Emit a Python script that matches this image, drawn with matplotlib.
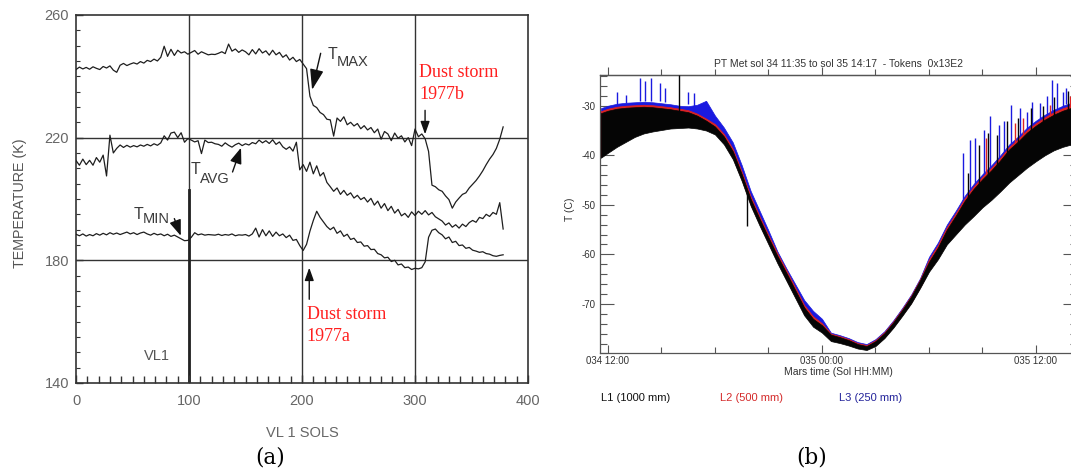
import matplotlib
matplotlib.use("Agg")
import matplotlib.pyplot as plt
from matplotlib.ticker import MultipleLocator, FixedLocator

plt.rcParams['axes.unicode_minus'] = False
plt.rcParams['font.family'] = ['Liberation Sans', 'DejaVu Sans']

# ---------------- panel (a) data: Viking Lander 1 temperatures ----------------
sols = list(range(0, 379, 3))
t_max = [242.2, 243.0, 242.4, 242.9, 242.3, 243.1, 242.6, 242.2, 243.2, 242.7,
         243.4, 242.0, 241.3, 243.6, 244.2, 243.5, 244.0, 244.4, 244.0, 244.8,
         244.3, 245.2, 244.8, 245.6, 245.0, 246.2, 249.8, 246.5, 248.8, 246.8,
         248.5, 247.6, 248.0, 247.2, 247.8, 248.4, 247.2, 248.0, 247.5, 247.0,
         247.2, 247.1, 247.5, 248.0, 247.4, 250.5, 248.2, 248.9, 247.8, 248.6,
         248.0, 247.0, 248.7, 247.3, 249.0, 247.6, 248.3, 246.9, 248.5, 247.0,
         247.8, 246.2, 247.0, 245.3, 246.2, 244.8, 245.5, 244.0, 242.5, 233.5,
         230.5, 229.8, 228.2, 227.5, 226.0, 225.8, 220.5, 226.4, 225.3, 226.8,
         224.2, 225.0, 223.8, 224.6, 222.9, 223.9, 222.5, 223.3, 221.6, 222.8,
         219.5, 222.0, 221.2, 219.0, 221.5, 219.8, 220.6, 218.6, 220.0, 217.4,
         222.8, 220.3, 221.2, 219.6, 215.5, 204.5, 204.0, 203.0, 202.5, 201.0,
         199.8, 197.0, 199.0, 200.3, 201.5, 202.0, 203.6, 204.8, 206.0, 207.5,
         209.2, 211.2, 213.0, 214.5, 216.5, 219.5, 223.5]
t_avg = [212.5, 211.0, 213.0, 211.2, 212.6, 211.0, 213.5, 212.0, 214.3, 207.5,
         220.8, 215.0, 216.5, 217.6, 216.8, 217.5, 216.9, 217.4, 217.0, 217.6,
         217.2, 217.8, 217.3, 218.0, 217.5, 218.3, 220.6, 219.2, 221.5, 221.8,
         220.0, 221.6, 218.5, 219.7, 219.2, 218.6, 219.0, 214.8, 219.2, 218.4,
         218.5, 218.0, 217.8, 217.2, 218.3, 217.5, 216.9, 217.7, 218.2, 217.4,
         218.0, 217.6, 218.4, 218.0, 219.2, 218.3, 219.0, 218.1, 219.3, 217.8,
         218.6, 217.0, 216.2, 217.0, 215.6, 218.5, 209.5, 211.2, 209.0, 212.0,
         208.2, 210.8, 207.5, 208.6, 205.4, 204.0, 202.5, 203.6, 201.5, 202.8,
         201.2, 202.0, 200.3, 201.2, 199.8, 200.5, 199.0, 200.2, 198.0, 199.3,
         197.0, 198.5, 196.2, 197.6, 195.4, 196.6, 194.5, 195.3, 194.0, 195.8,
         194.6, 196.0, 195.0, 196.2, 194.8, 195.6, 194.2, 193.5, 192.8, 191.5,
         192.2, 190.8, 191.6, 190.5, 191.8, 191.0, 192.3, 193.0, 192.4, 194.0,
         193.6, 195.0, 194.3, 195.6, 195.0, 198.8, 190.2]
t_min = [188.5, 188.0, 188.6, 187.9, 188.4, 188.0, 188.7, 188.2, 188.8, 188.3,
         189.0, 188.5, 188.9, 188.4, 188.8, 189.2, 188.6, 189.0, 188.4, 188.9,
         189.2, 188.6, 188.2, 188.8, 188.3, 188.6, 188.0, 188.5, 187.8, 188.2,
         187.6, 187.0, 186.4, 186.5, 187.5, 189.0, 188.3, 188.6, 188.2, 188.4,
         188.3, 188.2, 188.5, 188.1, 188.4, 188.2, 188.6, 188.0, 188.3, 188.2,
         188.4, 187.9, 188.6, 190.5, 187.6, 190.0, 188.0, 189.6, 187.8, 189.2,
         188.0, 188.6, 187.4, 188.2, 186.5, 186.8, 184.8, 183.2, 185.2, 189.5,
         193.0, 196.0, 194.0, 192.5, 191.0, 190.0, 190.8, 188.8, 189.6, 187.8,
         188.5, 186.8, 187.2, 185.8, 186.0, 184.6, 184.8, 183.5, 183.6, 182.2,
         181.8, 180.8, 181.0, 179.6, 180.0, 178.5, 178.8, 177.6, 177.8, 177.0,
         177.4, 177.2, 177.6, 179.5, 187.5, 189.8, 190.2, 189.0, 188.3, 187.0,
         187.6, 185.8, 186.2, 184.8, 185.0, 183.9, 184.2, 183.3, 183.0, 182.6,
         182.8, 182.2, 182.0, 181.5, 181.3, 181.6, 181.8]

a_xticks = [0, 100, 200, 300, 400]
a_yticks = [140, 180, 220, 260]

# ---------------- panel (b) data: Pathfinder mast temperatures ----------------
hb = [11.6, 12.0, 12.5, 13.0, 13.5, 14.0, 14.5, 15.0, 15.5, 16.0,
      16.5, 17.0, 17.5, 18.0, 18.5, 19.0, 19.5, 20.0, 20.5, 21.0,
      21.5, 22.0, 22.5, 23.0, 23.5, 24.0, 24.5, 25.0, 25.5, 26.0,
      26.5, 27.0, 27.5, 28.0, 28.5, 29.0, 29.5, 30.0, 30.5, 31.0,
      31.5, 32.0, 32.5, 33.0, 33.5, 34.0, 34.5, 35.0, 35.5, 36.0,
      36.5, 37.0, 37.5, 38.0, 38.3]
L1_lo = [-40.5, -39.5, -38.3, -37.3, -36.3, -35.6, -35.2, -34.9, -34.6, -34.5,
         -34.4, -34.6, -35.0, -35.8, -37.8, -40.8, -45.2, -50.2, -54.2, -58.0,
         -61.8, -65.3, -68.8, -72.3, -74.6, -75.8, -77.5, -77.9, -78.4, -79.0,
         -79.3, -78.5, -76.9, -74.8, -72.4, -69.9, -66.8, -63.5, -61.0, -58.0,
         -56.0, -54.0, -52.3, -50.5, -49.0, -47.3, -45.5, -44.0, -42.5, -41.2,
         -40.0, -39.0, -38.3, -37.8, -37.5]
L1_hi = [-31.5, -31.0, -30.6, -30.4, -30.3, -30.2, -30.3, -30.5, -30.7, -31.0,
         -31.3, -32.0, -33.0, -34.2, -36.2, -39.2, -43.8, -48.8, -52.8, -56.6,
         -60.3, -63.7, -67.2, -70.7, -73.0, -74.3, -76.2, -76.7, -77.3, -78.1,
         -78.5, -77.5, -75.9, -73.7, -71.2, -68.5, -65.2, -61.5, -58.6, -55.0,
         -52.2, -49.2, -46.8, -44.8, -43.0, -41.0, -38.8, -37.2, -35.4, -34.0,
         -32.8, -31.8, -31.0, -30.4, -30.2]
L2_lo = [-40.2, -39.2, -38.0, -37.0, -36.0, -35.3, -34.9, -34.6, -34.3, -34.2,
         -34.1, -34.3, -34.7, -35.5, -37.5, -40.5, -44.9, -49.9, -53.9, -57.7,
         -61.5, -65.0, -68.5, -72.0, -74.3, -75.5, -77.3, -77.7, -78.2, -78.8,
         -79.1, -78.3, -76.7, -74.6, -72.2, -69.7, -66.6, -63.2, -60.7, -57.7,
         -55.7, -53.7, -52.0, -50.2, -48.7, -47.0, -45.2, -43.7, -42.2, -40.9,
         -39.7, -38.7, -38.0, -37.5, -37.2]
L2_hi = [-31.1, -30.6, -30.2, -30.0, -29.9, -29.8, -29.9, -30.1, -30.3, -30.6,
         -30.9, -31.6, -32.6, -33.7, -35.7, -38.7, -43.3, -48.3, -52.3, -56.1,
         -59.8, -63.2, -66.7, -70.2, -72.5, -73.9, -76.0, -76.5, -77.1, -77.9,
         -78.3, -77.3, -75.7, -73.5, -71.0, -68.3, -65.0, -61.0, -58.1, -54.5,
         -51.7, -48.7, -46.3, -44.3, -42.5, -40.5, -38.3, -36.7, -34.9, -33.5,
         -32.3, -31.3, -30.5, -29.9, -29.7]
L3_lo = [-40.0, -39.0, -37.8, -36.8, -35.8, -35.1, -34.7, -34.4, -34.1, -33.9,
         -33.6, -33.2, -32.8, -33.9, -35.9, -38.9, -43.5, -48.5, -52.6, -56.6,
         -60.6, -64.0, -67.4, -70.6, -72.8, -74.4, -77.2, -77.6, -78.1, -78.7,
         -79.0, -78.2, -76.6, -74.5, -72.1, -69.6, -66.5, -62.9, -60.4, -57.4,
         -55.4, -53.4, -51.7, -49.9, -48.4, -46.7, -44.9, -43.4, -41.9, -40.6,
         -39.4, -38.4, -37.7, -37.2, -36.9]
L3_hi = [-30.5, -30.0, -29.6, -29.4, -29.3, -29.2, -29.3, -29.5, -29.7, -30.0,
         -30.1, -29.8, -29.0, -32.0, -34.4, -37.4, -42.0, -47.2, -51.2, -55.2,
         -59.4, -62.8, -66.0, -69.2, -71.4, -73.0, -75.8, -76.3, -76.9, -77.7,
         -78.1, -77.1, -75.5, -73.3, -70.8, -68.1, -64.8, -60.5, -57.6, -54.0,
         -51.2, -48.2, -45.8, -43.8, -42.0, -40.0, -37.8, -36.2, -34.4, -33.0,
         -31.8, -30.8, -30.0, -29.4, -29.2]

# short-lived spikes (hour, base, top)
b_spk_h = [11.9, 12.5, 13.0, 13.8, 14.1, 14.4, 14.9, 15.2, 16.5, 16.8,
           31.9, 32.3, 32.6, 33.1, 33.4, 33.9, 34.2, 34.6, 35.1, 35.5,
           35.8, 36.2, 36.6, 36.9, 37.2, 37.5, 37.7, 38.1]
b_spk_base = [-33.0, -30.0, -29.5, -29.0, -29.0, -29.0, -29.0, -29.2, -29.6, -30.0,
              -52.0, -50.0, -47.5, -44.5, -43.5, -42.0, -40.5, -39.0, -37.5, -36.2,
              -35.0, -33.5, -32.0, -31.2, -30.6, -30.0, -29.6, -29.2]
b_spk_top = [-30.4, -27.2, -27.8, -24.5, -25.1, -24.5, -25.5, -26.5, -27.2, -27.5,
             -39.5, -37.0, -36.5, -34.8, -32.1, -33.8, -33.0, -29.8, -30.5, -31.2,
             -29.2, -29.5, -28.0, -24.8, -25.5, -27.2, -26.5, -27.0]
r_spk_h = [33.2, 34.8, 35.3, 36.8, 37.9]
r_spk_base = [-45.0, -40.0, -38.0, -33.0, -31.0]
r_spk_top = [-36.5, -33.5, -32.5, -29.8, -28.0]
k_spk_h = [16.0, 19.8, 32.2, 32.8, 33.3, 33.8, 34.4, 35.0, 35.7, 36.4, 37.0, 37.8]
k_spk_base = [-34.0, -54.2, -51.0, -48.0, -46.0, -44.0, -41.5, -39.0, -37.0, -35.0, -33.0, -31.5]
k_spk_top = [-23.8, -47.5, -43.5, -38.0, -35.5, -36.0, -33.0, -32.5, -30.5, -30.0, -28.2, -27.0]

b_xticks = [12, 24, 36]
b_xticklabels = ["034 12:00", "035 00:00", "035 12:00"]
b_yticks = [-30, -40, -50, -60, -70]
legend_labels = ["L1 (1000 mm)", "L2 (500 mm)", "L3 (250 mm)"]
legend_colors = ["#111111", "#d42a2a", "#23239a"]

# ---------------- figure ----------------
fig = plt.figure(figsize=(10.71, 4.72), dpi=100)
fig.patch.set_facecolor('white')

LINE = '#1e1e1e'

# ---- panel (a) ----
axa = fig.add_axes([0.0710, 0.1886, 0.4220, 0.7797])
axa.set_xlim(0, 400)
axa.set_ylim(140, 260)
for v in [100, 200, 300]:
    axa.axvline(v, color='#333333', lw=1.0, zorder=1)
for h in [180, 220]:
    axa.axhline(h, color='#333333', lw=1.0, zorder=1)
axa.plot([100, 100], [140, 203], color='#222222', lw=2.0, zorder=1)

axa.plot(sols, t_max, color=LINE, lw=0.9, zorder=3)
axa.plot(sols, t_avg, color=LINE, lw=0.9, zorder=3)
axa.plot(sols, t_min, color=LINE, lw=0.9, zorder=3)

for s in axa.spines.values():
    s.set_color('#333333')
    s.set_linewidth(1.2)
axa.xaxis.set_major_locator(FixedLocator(a_xticks))
axa.xaxis.set_minor_locator(MultipleLocator(10))
axa.yaxis.set_major_locator(FixedLocator(a_yticks))
axa.yaxis.set_minor_locator(MultipleLocator(5))
axa.tick_params(axis='both', which='both', direction='in', color='#333333',
                labelcolor='#666666', labelsize=10.5)
axa.tick_params(axis='x', which='major', length=6, width=1.0, pad=8)
axa.tick_params(axis='x', which='minor', length=5, width=1.0)
axa.tick_params(axis='y', which='major', length=5, width=1.0, pad=5)
axa.tick_params(axis='y', which='minor', length=3, width=0.8)
axa.set_xlabel('VL 1 SOLS', fontsize=10.5, color='#666666', labelpad=13)
fig.text(0.0187, 0.57, 'TEMPERATURE (K)', rotation=90, fontsize=10.3,
         color='#555555', ha='center', va='center')

# annotations
tc = '#3a3a3a'
axa.text(222.6, 247.2, 'T', fontsize=11.5, color=tc, ha='left', va='center')
axa.text(231.0, 244.6, 'MAX', fontsize=10.5, color=tc, ha='left', va='center')
axa.annotate('', xy=(208.9, 235.6), xytext=(216.5, 247.5),
             arrowprops=dict(arrowstyle='-|>,head_length=0.9,head_width=0.3',
                             mutation_scale=14, color='#111111', lw=1.0,
                             shrinkA=0, shrinkB=0))
axa.text(101.8, 209.7, 'T', fontsize=11.5, color=tc, ha='left', va='center')
axa.text(109.5, 206.4, 'AVG', fontsize=10.5, color=tc, ha='left', va='center')
axa.annotate('', xy=(146.0, 216.7), xytext=(138.5, 208.8),
             arrowprops=dict(arrowstyle='-|>,head_length=0.8,head_width=0.3',
                             mutation_scale=12, color='#111111', lw=1.0,
                             shrinkA=0, shrinkB=0))
axa.text(51.4, 195.0, 'T', fontsize=11.5, color=tc, ha='left', va='center')
axa.text(59.2, 193.6, 'MIN', fontsize=10.5, color=tc, ha='left', va='center')
axa.annotate('', xy=(92.7, 188.0), xytext=(87.0, 193.6),
             arrowprops=dict(arrowstyle='-|>,head_length=0.8,head_width=0.3',
                             mutation_scale=12, color='#111111', lw=1.0,
                             shrinkA=0, shrinkB=0))
axa.text(72, 148.8, 'VL1', fontsize=10.5, color='#555555', ha='center', va='center')

red = '#ff1f1f'
axa.text(303.7, 241.2, 'Dust storm', fontsize=13, color=red, family='Liberation Serif',
         ha='left', va='center')
axa.text(303.7, 234.1, '1977b', fontsize=13, color=red, family='Liberation Serif',
         ha='left', va='center')
axa.annotate('', xy=(308.9, 221.1), xytext=(308.9, 228.9),
             arrowprops=dict(arrowstyle='-|>,head_length=0.7,head_width=0.25',
                             mutation_scale=11, color='#111111', lw=1.0,
                             shrinkA=0, shrinkB=0))
axa.annotate('', xy=(206.4, 177.6), xytext=(206.4, 167.3),
             arrowprops=dict(arrowstyle='-|>,head_length=0.7,head_width=0.25',
                             mutation_scale=11, color='#111111', lw=1.0,
                             shrinkA=0, shrinkB=0))
axa.text(204.3, 162.4, 'Dust storm', fontsize=13, color=red, family='Liberation Serif',
         ha='left', va='center')
axa.text(204.3, 155.3, '1977a', fontsize=13, color=red, family='Liberation Serif',
         ha='left', va='center')

# ---- panel (b) ----
axb = fig.add_axes([0.5602, 0.2511, 0.4454, 0.5900])
axb.set_xlim(11.55, 38.3)
axb.set_ylim(-80.0, -23.8)

blue = '#1a1ae0'
redb = '#dd2222'
blk = '#050505'
axb.fill_between(hb, L3_lo, L3_hi, color=blue, lw=0.5, zorder=2)
axb.vlines(b_spk_h, b_spk_base, b_spk_top, color=blue, lw=1.0, zorder=2)
axb.fill_between(hb, L2_lo, L2_hi, color=redb, lw=0.5, zorder=3)
axb.vlines(r_spk_h, r_spk_base, r_spk_top, color=redb, lw=1.0, zorder=3)
axb.fill_between(hb, L1_lo, L1_hi, color=blk, lw=0.5, zorder=4)
axb.vlines(k_spk_h, k_spk_base, k_spk_top, color=blk, lw=1.0, zorder=4)

for s in axb.spines.values():
    s.set_color('#555555')
    s.set_linewidth(0.9)
axb.xaxis.set_major_locator(FixedLocator(b_xticks))
axb.xaxis.set_minor_locator(MultipleLocator(3))
axb.set_xticklabels(b_xticklabels)
axb.yaxis.set_major_locator(FixedLocator(b_yticks))
axb.yaxis.set_minor_locator(MultipleLocator(2))
axb.tick_params(axis='both', which='both', direction='in', color='#555555',
                labelcolor='#333333', labelsize=7, right=True, top=False)
axb.tick_params(axis='x', which='major', length=6, width=0.8, pad=2)
axb.tick_params(axis='x', which='minor', length=4, width=0.8)
axb.tick_params(axis='y', which='major', length=10, width=0.8, pad=3)
axb.tick_params(axis='y', which='minor', length=5, width=0.8)
top = axb.secondary_xaxis('top')
top.xaxis.set_major_locator(FixedLocator(b_xticks))
top.xaxis.set_minor_locator(MultipleLocator(3))
top.tick_params(axis='x', which='both', direction='out', color='#555555',
                labelbottom=False, labeltop=False)
top.tick_params(axis='x', which='major', length=6, width=0.8)
top.tick_params(axis='x', which='minor', length=4, width=0.8)
top.spines['top'].set_color('#555555')
top.spines['top'].set_linewidth(0.9)

fig.text(0.7825, 0.864, 'PT Met sol 34 11:35 to sol 35 14:17  - Tokens  0x13E2',
         fontsize=7.5, color='#333333', ha='center', va='center')
fig.text(0.7825, 0.211, 'Mars time (Sol HH:MM)', fontsize=7.5, color='#333333',
         ha='center', va='center')
fig.text(0.532, 0.557, 'T (C)', rotation=90, fontsize=7.5, color='#333333',
         ha='center', va='center')
for xpos, lab, col in zip([0.561, 0.672, 0.783], legend_labels, legend_colors):
    fig.text(xpos, 0.157, lab, fontsize=8, color=col, ha='left', va='center')

# captions
fig.text(0.2521, 0.030, '(a)', fontsize=15.5, family='DejaVu Serif', ha='center', va='center')
fig.text(0.7582, 0.030, '(b)', fontsize=15.5, family='DejaVu Serif', ha='center', va='center')

fig.savefig('out.png', dpi=100, facecolor='white')
